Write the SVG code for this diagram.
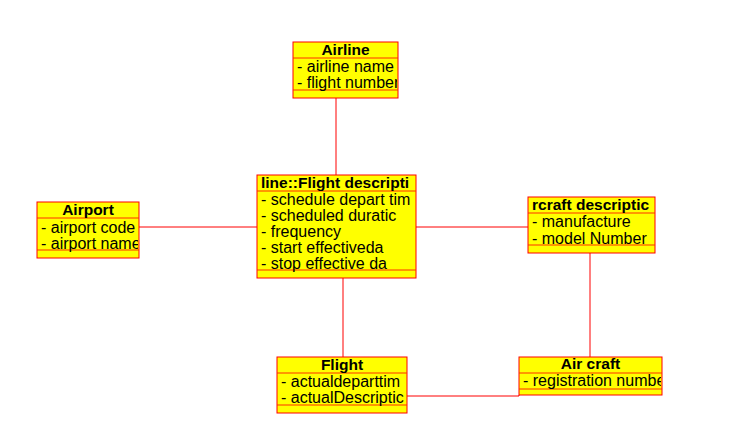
<svg xmlns="http://www.w3.org/2000/svg" width="755" height="441" viewBox="0 0 755 441">
<style>
.box{fill:#FFFF00;stroke:#FF0000;stroke-width:1}
.sep{stroke:#FF3000;stroke-width:1}
.hd{font-family:"Liberation Sans",Arial,sans-serif;font-size:15.5px;font-weight:bold;fill:#000}
.at{font-family:"Liberation Sans",Arial,sans-serif;font-size:16px;fill:#000}
.ln{stroke:#FF0000;stroke-width:1;fill:none}
</style>
<defs>
<clipPath id="cAirline"><rect x="293" y="42" width="104" height="56"/></clipPath>
<clipPath id="cFD"><rect x="257" y="175" width="158" height="103"/></clipPath>
<clipPath id="cAirport"><rect x="37" y="202" width="101" height="56"/></clipPath>
<clipPath id="cAD"><rect x="528" y="197" width="126" height="56"/></clipPath>
<clipPath id="cFlight"><rect x="277" y="357" width="129" height="56"/></clipPath>
<clipPath id="cAC"><rect x="519" y="357" width="142" height="38"/></clipPath>
</defs>
<g id="connectors">
<line class="ln" x1="336" y1="98" x2="336" y2="175"/>
<line class="ln" x1="139" y1="227" x2="257" y2="227"/>
<line class="ln" x1="416" y1="227" x2="528" y2="227"/>
<line class="ln" x1="343" y1="278" x2="343" y2="357"/>
<line class="ln" x1="590" y1="253" x2="590" y2="357"/>
<polyline class="ln" points="407,396 519,396 519,395"/>
</g>
<g id="airline">
<rect class="box" x="293" y="42" width="105" height="56"/>
<line class="sep" x1="293" y1="58" x2="398" y2="58"/>
<line class="sep" x1="293" y1="90" x2="398" y2="90"/>
<g clip-path="url(#cAirline)">
<text class="hd" x="345.5" y="55" text-anchor="middle">Airline</text>
<text class="at" x="297" y="72">- airline name</text>
<text class="at" x="297" y="88">- flight number</text>
</g>
</g>
<g id="flightdescription">
<rect class="box" x="257" y="175" width="159" height="103"/>
<line class="sep" x1="257" y1="191" x2="416" y2="191"/>
<line class="sep" x1="257" y1="270" x2="416" y2="270"/>
<g clip-path="url(#cFD)">
<text class="hd" x="261" y="188">line::Flight descripti</text>
<text class="at" x="261" y="205">- schedule depart tim</text>
<text class="at" x="261" y="221">- scheduled duratic</text>
<text class="at" x="261" y="237">- frequency</text>
<text class="at" x="261" y="253">- start effectiveda</text>
<text class="at" x="261" y="269">- stop effective da</text>
</g>
</g>
<g id="airport">
<rect class="box" x="37" y="202" width="102" height="56"/>
<line class="sep" x1="37" y1="218" x2="139" y2="218"/>
<line class="sep" x1="37" y1="250" x2="139" y2="250"/>
<g clip-path="url(#cAirport)">
<text class="hd" x="88" y="215" text-anchor="middle">Airport</text>
<text class="at" x="41" y="233">- airport code</text>
<text class="at" x="41" y="249">- airport name</text>
</g>
</g>
<g id="aircraftdescription">
<rect class="box" x="528" y="197" width="127" height="56"/>
<line class="sep" x1="528" y1="213" x2="655" y2="213"/>
<line class="sep" x1="528" y1="245" x2="655" y2="245"/>
<g clip-path="url(#cAD)">
<text class="hd" x="532" y="210">rcraft descriptic</text>
<text class="at" x="532" y="227">- manufacture</text>
<text class="at" x="532" y="244">- model Number</text>
</g>
</g>
<g id="flight">
<rect class="box" x="277" y="357" width="130" height="56"/>
<line class="sep" x1="277" y1="373" x2="407" y2="373"/>
<line class="sep" x1="277" y1="405" x2="407" y2="405"/>
<g clip-path="url(#cFlight)">
<text class="hd" x="342" y="370" text-anchor="middle">Flight</text>
<text class="at" x="281" y="387">- actualdeparttim</text>
<text class="at" x="281" y="403">- actualDescriptic</text>
</g>
</g>
<g id="aircraft">
<rect class="box" x="519" y="357" width="143" height="38"/>
<line class="sep" x1="519" y1="373" x2="662" y2="373"/>
<line class="sep" x1="519" y1="389" x2="662" y2="389"/>
<g clip-path="url(#cAC)">
<text class="hd" x="590.5" y="369" text-anchor="middle">Air craft</text>
<text class="at" x="523" y="386">- registration number</text>
</g>
</g>
</svg>
